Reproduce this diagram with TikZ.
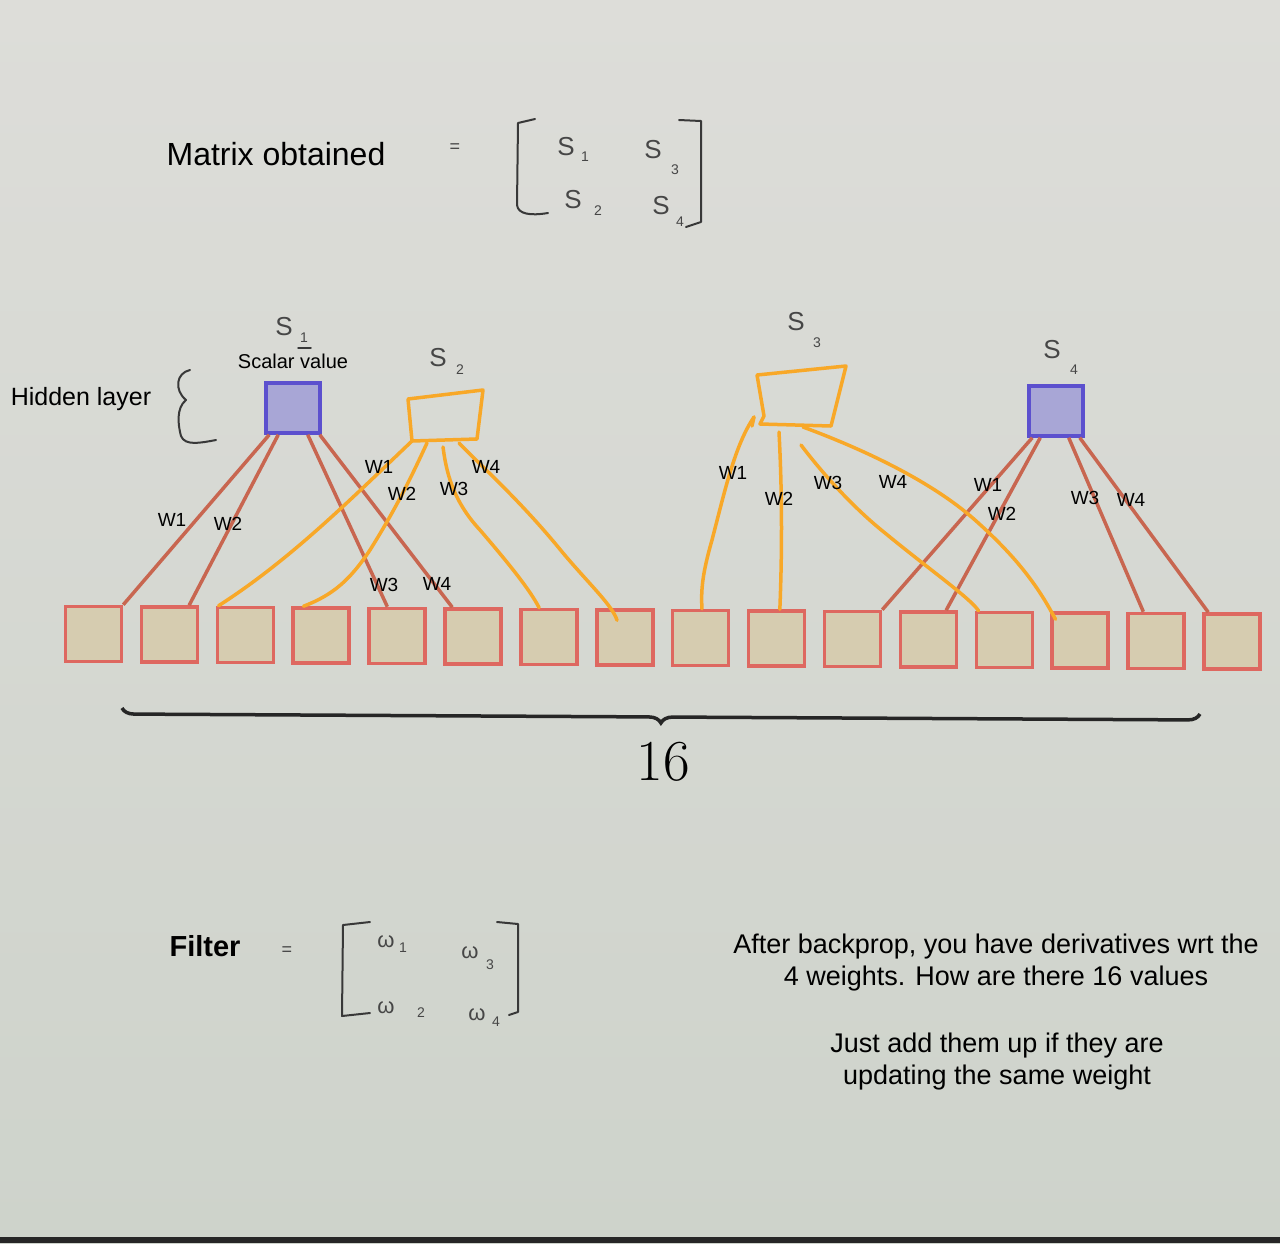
\documentclass[tikz,border=0pt]{standalone}
\usepackage{fontspec}
\newfontfamily\sans{Liberation Sans}
\usetikzlibrary{calc,decorations.pathreplacing}
\definecolor{bgtop}{RGB}{221,221,217}
\definecolor{bgmid}{RGB}{241,242,237}
\definecolor{bgbot}{RGB}{206,211,203}
\definecolor{boxfill}{RGB}{214,204,176}
\definecolor{boxline}{RGB}{222,104,96}
\definecolor{redline}{RGB}{200,102,80}
\definecolor{orangeline}{RGB}{248,168,40}
\definecolor{hidfill}{RGB}{168,166,214}
\definecolor{hidline}{RGB}{92,80,206}
\definecolor{pencil}{RGB}{70,70,70}
\begin{document}
\begin{tikzpicture}[x=1pt,y=-1pt,
  inbox/.style={draw=boxline,fill=boxfill,line width=3.5pt,minimum width=56pt,minimum height=55pt,inner sep=0pt},
  hid/.style={draw=hidline,fill=hidfill,line width=3.5pt,minimum width=54pt,minimum height=50pt,inner sep=0pt},
  redw/.style={draw=redline,line width=3.5pt},
  orw/.style={draw=orangeline,line width=3.5pt,line cap=round,line join=round},
  wlab/.style={font=\sans\fontsize{19}{19}\selectfont,text=black,inner sep=0pt},
  txt/.style={font=\sans\fontsize{27}{32}\selectfont,text=black,inner sep=0pt,align=center},
  hand/.style={font=\sans\fontsize{26}{26}\selectfont,text=pencil,inner sep=0pt},
  handsub/.style={font=\sans\fontsize{14}{14}\selectfont,text=pencil,inner sep=0pt},
  pen/.style={draw=pencil!80!black,line width=2pt,line cap=round,line join=round}]
\useasboundingbox (0,0) rectangle (1280,1243);
\shade[top color=bgtop,middle color=bgmid,bottom color=bgbot] (0,0) rectangle (1280,1243);
\fill[black!85] (0,1237) rectangle (1280,1243);

% titles
\node[font=\sans\fontsize{32}{32}\selectfont,inner sep=0pt] (mt) at (276,154) {Matrix obtained};
\node[font=\sans\fontsize{18}{18}\selectfont,text=pencil,inner sep=0pt] (eq1) at (455,148) {=};
% matrix of S
\draw[pen] (535,119) -- (518,123) -- (517,205) .. controls (518,214) and (530,216) .. (548,213);
\draw[pen] (679,120) -- (701,121) -- (701,222) -- (686,227);
\node[hand] (m11) at (566,147) {S};
\node[handsub] (m11s) at (585,157) {1};
\node[hand] (m12) at (653,150) {S};
\node[handsub] (m12s) at (675,170) {3};
\node[hand] (m21) at (573,200) {S};
\node[handsub] (m21s) at (598,211) {2};
\node[hand] (m22) at (661,206) {S};
\node[handsub] (m22s) at (680,222) {4};

% hidden layer label and brace
\node[font=\sans\fontsize{25}{25}\selectfont,inner sep=0pt] (hl) at (81,399) {Hidden layer};
\draw[pen] (190,370) .. controls (176,373) and (174,390) .. (186,400) .. controls (176,408) and (178,425) .. (181,436) .. controls (185,446) and (200,443) .. (216,440);

% input boxes
\foreach \i in {0,...,15} {
  \node[inbox] (b\i) at ({93.5+75.9*\i},{634+0.5*\i}) {};
}

% hidden nodes
\node[hid] (h1) at (293,408) {};
\node[hid] (h4) at (1056,411) {};
\node[font=\sans\fontsize{20}{20}\selectfont,inner sep=0pt] (sv) at (293,361) {Scalar value};
\node[hand] (s1) at (284,327) {S};
\node[handsub] (s1s) at (304,338) {1};
\draw[pen,line width=1.5pt] (298,348) -- (311,348);
\node[hand] (s2) at (438,358) {S};
\node[handsub] (s2s) at (460,370) {2};
\node[hand] (s3) at (796,322) {S};
\node[handsub] (s3s) at (817,343) {3};
\node[hand] (s4) at (1052,350) {S};
\node[handsub] (s4s) at (1074,370) {4};

% hand drawn hidden nodes (orange)
\coordinate (q2a) at (408,399);
\coordinate (q2b) at (483,390);
\coordinate (q2c) at (477,439);
\coordinate (q2d) at (412,441);
\draw[orw] (q2a) -- (q2b) -- (q2c) -- (q2d) -- cycle;
\coordinate (q3a) at (757,375);
\coordinate (q3b) at (846,366);
\coordinate (q3c) at (831,426);
\coordinate (q3d) at (760,424);
\draw[orw] (q3a) -- (q3b) -- (q3c) -- (q3d) -- (764,416) -- (q3a);
\draw[orw] (754,417) -- (752,426);

% S1 connections
\draw[redw] ($(h1.south west)+(5,0)$) -- (b0.north east);
\draw[redw] ($(h1.south west)+(14,0)$) -- ($(b1.north east)+(-10,0)$);
\draw[redw] ($(h1.south east)+(-14,0)$) -- ($(b4.north west)+(20,0)$);
\draw[redw] ($(h1.south east)+(-2,0)$) -- ($(b5.north west)+(9,0)$);

% S4 connections
\draw[redw] ($(h4.south west)+(5,0)$) -- (b10.north east);
\draw[redw] ($(h4.south west)+(13,0)$) -- ($(b11.north east)+(-12,0)$);
\draw[redw] ($(h4.south east)+(-16,0)$) -- ($(b14.north west)+(17,0)$);
\draw[redw] ($(h4.south east)+(-5,0)$) -- ($(b15.north west)+(6,0)$);

% S2 connections
\draw[orw] (q2d) .. controls (350,500) and (290,560) .. ($(b2.north west)+(3,0)$);
\draw[orw] (427,443) .. controls (410,480) and (395,510) .. (370,550) .. controls (350,580) and (333,595) .. ($(b3.north west)+(12,0)$);
\draw[orw] (443,447) .. controls (446,470) and (452,500) .. (480,530) .. controls (510,565) and (530,590) .. ($(b6.north west)+(20,0)$);
\draw[orw] (459,443) .. controls (480,465) and (520,500) .. (563,553) .. controls (590,585) and (612,605) .. ($(b7.north west)+(22,12)$);

% S3 connections
\draw[orw] (754,417) .. controls (735,445) and (725,490) .. (712,540) .. controls (702,575) and (701,590) .. ($(b8.north west)+(31,0)$);
\draw[orw] (779,432) .. controls (781,470) and (783,530) .. ($(b9.north west)+(33,0)$);
\draw[orw] (801,445) .. controls (820,470) and (850,505) .. (885,533) .. controls (930,570) and (970,598) .. ($(b12.north west)+(4,0)$);
\draw[orw] (803,427) .. controls (860,448) and (930,480) .. (975,520) .. controls (1020,560) and (1040,590) .. ($(b13.north west)+(5,8)$);

% weight labels
\node[wlab] (l1) at (172,520) {W1};
\node[wlab] (l2) at (228,524) {W2};
\node[wlab] (l3) at (379,467) {W1};
\node[wlab] (l4) at (402,494) {W2};
\node[wlab] (l5) at (454,489) {W3};
\node[wlab] (l6) at (486,467) {W4};
\node[wlab] (l7) at (384,585) {W3};
\node[wlab] (l8) at (437,584) {W4};
\node[wlab] (l9) at (733,473) {W1};
\node[wlab] (l10) at (779,499) {W2};
\node[wlab] (l11) at (828,483) {W3};
\node[wlab] (l12) at (893,482) {W4};
\node[wlab] (l13) at (988,485) {W1};
\node[wlab] (l14) at (1002,514) {W2};
\node[wlab] (l15) at (1085,498) {W3};
\node[wlab] (l16) at (1131,500) {W4};

% big brace and 16
\draw[decorate,decoration={brace,amplitude=12pt,mirror},line width=3.5pt,draw=black!85] (122,708) -- (1200,714);
\node[font=\fontsize{58}{58}\selectfont,inner sep=0pt] (n16) at (663,762) {16};

% filter
\node[font=\sans\bfseries\fontsize{29}{29}\selectfont,inner sep=0pt] (fl) at (205,946) {Filter};
\node[font=\sans\fontsize{18}{18}\selectfont,text=pencil,inner sep=0pt] (eq2) at (287,951) {=};
\draw[pen] (370,922) -- (343,925) -- (342,1016) -- (370,1013);
\draw[pen] (497,922) -- (518,924) -- (518,1012) -- (509,1015);
\node[hand,font=\sans\fontsize{22}{22}\selectfont] (f11) at (386,942) {ω};
\node[handsub] (f11s) at (403,948) {1};
\node[hand,font=\sans\fontsize{22}{22}\selectfont] (f12) at (470,953) {ω};
\node[handsub] (f12s) at (490,965) {3};
\node[hand,font=\sans\fontsize{22}{22}\selectfont] (f21) at (386,1008) {ω};
\node[handsub] (f21s) at (421,1013) {2};
\node[hand,font=\sans\fontsize{22}{22}\selectfont] (f22) at (477,1015) {ω};
\node[handsub] (f22s) at (496,1022) {4};

% explanatory text
\node[txt] (t1) at (996,963) {After backprop, you have derivatives wrt the\\4 weights. How are there 16 values};
\node[txt] (t2) at (997,1062) {Just add them up if they are\\updating the same weight};
\end{tikzpicture}
\end{document}
